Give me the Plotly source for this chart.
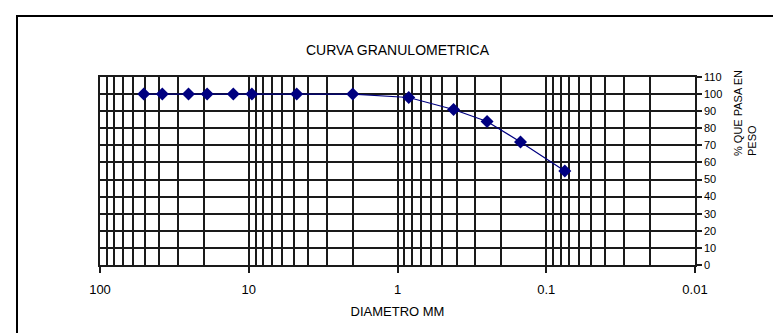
import plotly.graph_objects as go

# sieve openings (mm) and percent passing
diametro = [50.8, 38.1, 25.4, 19.05, 12.7, 9.525, 4.76, 2.0, 0.84, 0.42, 0.25, 0.149, 0.075]
pasa = [100, 100, 100, 100, 100, 100, 100, 100, 98, 91, 84, 72, 55]

x_ticks = [100, 10, 1, 0.1, 0.01]
x_ticktext = ["100", "10", "1", "0.1", "0.01"]
x_minor = [d * k for d in [0.01, 0.1, 1, 10] for k in range(2, 10)]
y_ticks = list(range(0, 111, 10))

FONT = "Arial, Liberation Sans, sans-serif"
GRID = "#1a1a1a"

fig = go.Figure()

fig.add_trace(go.Scatter(
    x=diametro,
    y=pasa,
    mode="lines+markers",
    line=dict(color="#000080", width=1.2),
    marker=dict(symbol="diamond", size=10, color="#000080"),
    showlegend=False,
))

# plot area: x 92..687, y 69..257
L, R, T, B = 92, 687, 69, 257
W, H = 781, 333
pw, ph = R - L, B - T

def px(x):
    return (x - L) / pw

def py(y):
    return (B - y) / ph

fig.update_layout(
    width=W,
    height=H,
    margin=dict(l=L, r=W - R, t=T, b=H - B),
    paper_bgcolor="white",
    plot_bgcolor="white",
    font=dict(family=FONT, size=12, color="black"),
    xaxis=dict(
        type="log",
        range=[2, -2],
        tickvals=x_ticks,
        ticktext=x_ticktext,
        ticks="outside",
        ticklen=6,
        tickwidth=1.5,
        tickcolor=GRID,
        tickfont=dict(size=13),
        ticklabelstandoff=6,
        showgrid=True,
        gridcolor=GRID,
        gridwidth=1.6,
        showline=True,
        linecolor=GRID,
        linewidth=1.6,
        mirror=True,
        minor=dict(tickvals=x_minor, showgrid=True, gridcolor=GRID, gridwidth=1.6, ticks=""),
        title=dict(text="DIAMETRO MM", font=dict(size=13), standoff=10),
        zeroline=False,
    ),
    yaxis=dict(
        side="right",
        range=[0, 110],
        tickvals=y_ticks,
        ticks="outside",
        ticklen=5,
        tickwidth=1.5,
        tickcolor=GRID,
        tickfont=dict(size=11),
        showgrid=True,
        gridcolor=GRID,
        gridwidth=1.6,
        showline=True,
        linecolor=GRID,
        linewidth=1.6,
        mirror=True,
        zeroline=False,
    ),
    title=dict(
        text="CURVA GRANULOMETRICA",
        x=0.5 * (L + R) / W,
        xanchor="center",
        y=1 - 42 / H,
        yanchor="middle",
        font=dict(size=14),
    ),
)

fig.add_annotation(
    text="% QUE PASA EN<br>PESO",
    xref="paper", yref="paper",
    x=px(737), y=py(150),
    xanchor="center", yanchor="bottom",
    align="left",
    showarrow=False,
    textangle=-90,
    font=dict(size=11),
)

# outer chart border
fig.add_shape(
    type="rect",
    xref="paper", yref="paper",
    x0=px(9), x1=px(779), y0=py(331), y1=py(8),
    line=dict(color="black", width=2),
    fillcolor="rgba(0,0,0,0)",
    layer="below",
)

fig.write_html("out.html")
